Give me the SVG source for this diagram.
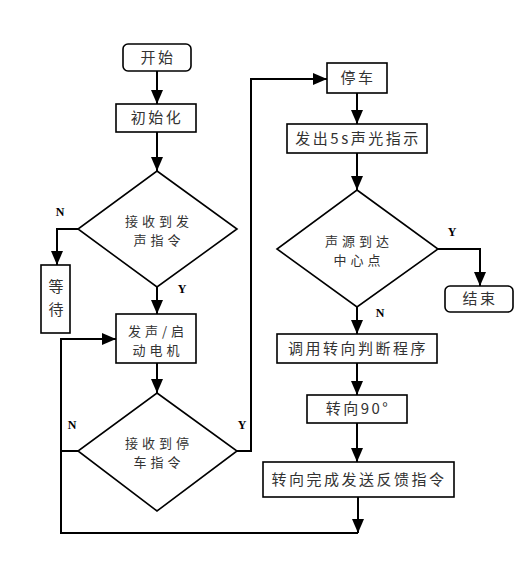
<svg xmlns="http://www.w3.org/2000/svg" width="531" height="573" viewBox="0 0 531 573">
<defs>
<marker id="ah" markerUnits="userSpaceOnUse" markerWidth="14" markerHeight="16" viewBox="0 0 14 16" refX="14" refY="7" orient="auto">
<path d="M0 1 L14 7 L0 13 Z" fill="#000"/>
</marker>
<style>
.b{fill:#fff;stroke:#000;stroke-width:1.6}
.t{font-family:"Noto Sans CJK SC","Liberation Sans",sans-serif;font-size:15px;fill:#333;text-anchor:middle;letter-spacing:2.5px}
.s{font-size:13px;letter-spacing:4px}
.c{fill:none;stroke:#000;stroke-width:2}
.l{font-family:"Liberation Serif",serif;font-size:12px;font-weight:bold;fill:#000;text-anchor:middle}
</style>
</defs>
<rect width="531" height="573" fill="#fff"/>
<g id="connectors">
<path class="c" d="M157 71 V104" marker-end="url(#ah)"/>
<path class="c" d="M157 132 V171" marker-end="url(#ah)"/>
<path class="c" d="M78 229 H57 V265" marker-end="url(#ah)"/>
<path class="c" d="M157 287 V314" marker-end="url(#ah)"/>
<path class="c" d="M157 363 V393" marker-end="url(#ah)"/>
<path class="c" d="M78 451 H61"/>
<path class="c" d="M358 497 V533" marker-end="url(#ah)"/>
<path class="c" d="M358 533 H61 V339 H116" marker-end="url(#ah)"/>
<path class="c" d="M237 451 H251 V79 H327" marker-end="url(#ah)"/>
<path class="c" d="M357 93 V124" marker-end="url(#ah)"/>
<path class="c" d="M357 153 V190" marker-end="url(#ah)"/>
<path class="c" d="M438 249 H480 V286" marker-end="url(#ah)"/>
<path class="c" d="M357 307 V334" marker-end="url(#ah)"/>
<path class="c" d="M357 363 V395" marker-end="url(#ah)"/>
<path class="c" d="M357 423 V462" marker-end="url(#ah)"/>
<text class="l" x="60" y="216">N</text>
<text class="l" x="182" y="293">Y</text>
<text class="l" x="72" y="429">N</text>
<text class="l" x="242" y="429">Y</text>
<text class="l" x="452" y="236">Y</text>
<text class="l" x="380" y="317">N</text>
</g>
<g id="start"><rect class="b" x="123" y="44" width="68" height="27" rx="5"/><text class="t" x="158" y="63">开始</text></g>
<g id="init"><rect class="b" x="116" y="104" width="80" height="28"/><text class="t" x="157" y="123">初始化</text></g>
<g id="d1"><path class="b" d="M157 171 L237 229 L157 287 L78 229 Z"/><text class="t s" x="159" y="226">接收到发</text><text class="t s" x="159" y="245">声指令</text></g>
<g id="wait"><rect class="b" x="41" y="265" width="29" height="68"/><text class="t" x="56" y="292" style="letter-spacing:0">等</text><text class="t" x="56" y="315" style="letter-spacing:0">待</text></g>
<g id="motor"><rect class="b" x="116" y="314" width="80" height="49"/><text class="t s" x="158" y="336">发声/启</text><text class="t s" x="158" y="355">动电机</text></g>
<g id="d2"><path class="b" d="M157 393 L237 451 L157 511 L78 451 Z"/><text class="t s" x="159" y="448">接收到停</text><text class="t s" x="159" y="467">车指令</text></g>
<g id="stop"><rect class="b" x="327" y="63" width="60" height="30"/><text class="t" x="358" y="83">停车</text></g>
<g id="signal"><rect class="b" x="287" y="124" width="140" height="29"/><text class="t" x="358" y="144">发出5s声光指示</text></g>
<g id="d3"><path class="b" d="M357 190 L438 249 L357 307 L277 249 Z"/><text class="t s" x="359" y="246">声源到达</text><text class="t s" x="359" y="265">中心点</text></g>
<g id="end"><rect class="b" x="445" y="286" width="68" height="26" rx="5"/><text class="t" x="480" y="304">结束</text></g>
<g id="call"><rect class="b" x="277" y="334" width="160" height="29"/><text class="t" x="358" y="354">调用转向判断程序</text></g>
<g id="turn"><rect class="b" x="307" y="395" width="100" height="28"/><text class="t" x="358" y="414">转向90°</text></g>
<g id="feedback"><rect class="b" x="263" y="462" width="191" height="35"/><text class="t" x="359" y="485">转向完成发送反馈指令</text></g>
</svg>
